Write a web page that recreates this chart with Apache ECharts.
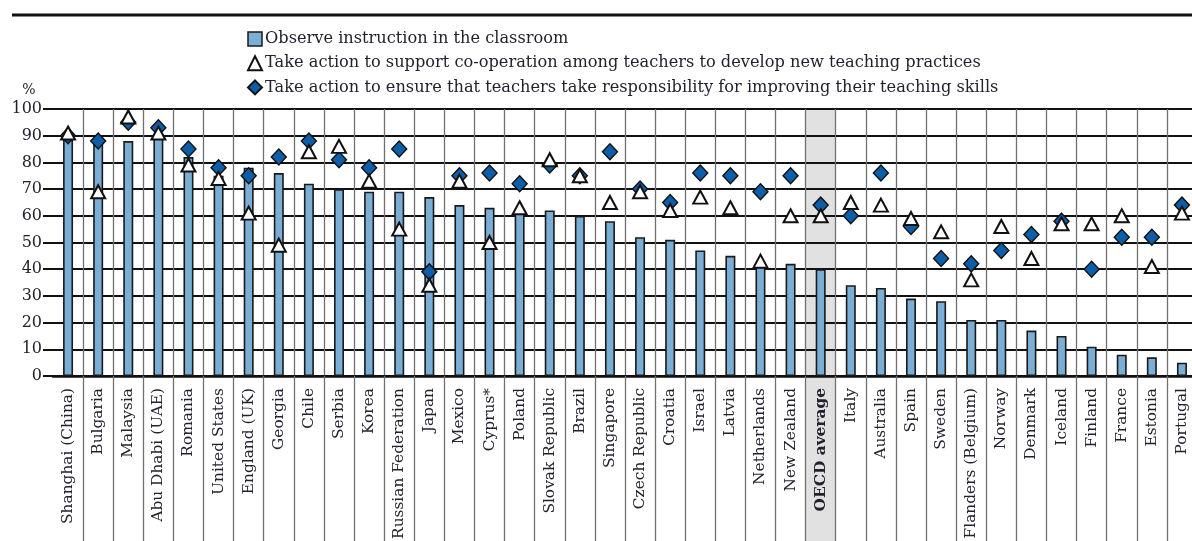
<!DOCTYPE html>
<html>
<head>
<meta charset="utf-8">
<script src="https://cdn.jsdelivr.net/npm/echarts@6/dist/echarts.min.js"></script>
<style>
  html, body { margin: 0; padding: 0; background: #fff; }
  #chart { width: 1192px; height: 541px; }
</style>
</head>
<body>
<div id="chart"></div>
<script>
const countries = ['Shanghai (China)', 'Bulgaria', 'Malaysia', 'Abu Dhabi (UAE)', 'Romania', 'United States',
  'England (UK)', 'Georgia', 'Chile', 'Serbia', 'Korea', 'Russian Federation', 'Japan', 'Mexico', 'Cyprus*',
  'Poland', 'Slovak Republic', 'Brazil', 'Singapore', 'Czech Republic', 'Croatia', 'Israel', 'Latvia',
  'Netherlands', 'New Zealand', 'OECD average', 'Italy', 'Australia', 'Spain', 'Sweden', 'Flanders (Belgium)',
  'Norway', 'Denmark', 'Iceland', 'Finland', 'France', 'Estonia', 'Portugal'];

const observe = [90, 88, 88, 89, 82, 75, 78, 76, 72, 70, 69, 69, 67, 64, 63, 61, 62, 60, 58, 52, 51, 47, 45,
  41, 42, 40, 34, 33, 29, 28, 21, 21, 17, 15, 11, 8, 7, 5];

const cooperation = [91, 69, 97, 91, 79, 74, 61, 49, 84, 86, 73, 55, 34, 73, 50, 63, 81, 75, 65, 69, 62, 67, 63,
  43, 60, 60, 65, 64, 59, 54, 36, 56, 44, 57, 57, 60, 41, 61];

const responsibility = [90, 88, 95, 93, 85, 78, 75, 82, 88, 81, 78, 85, 39, 75, 76, 72, 79, 75, 84, 70, 65, 76, 75,
  69, 75, 64, 60, 76, 56, 44, 42, 47, 53, 58, 40, 52, 52, 64];

const yTicks = [0, 10, 20, 30, 40, 50, 60, 70, 80, 90, 100];

const legendNames = [
  'Observe instruction in the classroom',
  'Take action to support co-operation among teachers to develop new teaching practices',
  'Take action to ensure that teachers take responsibility for improving their teaching skills'
];

const serif = 'DejaVu Serif';
const textColor = '#22222e';

const chart = echarts.init(document.getElementById('chart'));

const option = {
  animation: false,
  textStyle: { fontFamily: serif },
  grid: { left: 53, width: 1144, top: 109, bottom: 165, containLabel: false, outerBoundsMode: 'none' },
  legend: {
    data: [
      { name: legendNames[0], icon: 'rect', itemStyle: { borderWidth: 1.5 } },
      { name: legendNames[1], icon: 'triangle' },
      { name: legendNames[2], icon: 'diamond' }
    ],
    orient: 'vertical',
    left: 242,
    top: 26,
    itemWidth: 14,
    itemHeight: 14,
    itemGap: 8.2,
    textStyle: { fontFamily: serif, fontSize: 16.2, lineHeight: 16, color: textColor, padding: [0, 0, 0, -2] },
    selectedMode: false
  },
  xAxis: {
    type: 'category',
    data: countries,
    boundaryGap: true,
    axisLine: { lineStyle: { color: '#111', width: 2.5 } },
    axisTick: {
      show: true,
      length: 170,
      interval: (index) => index !== 0,
      lineStyle: { color: '#707070', width: 1.3 }
    },
    axisLabel: {
      interval: 0,
      rotate: 90,
      fontFamily: serif,
      fontSize: 15.4,
      color: textColor,
      margin: 12,
      formatter: v => v === 'OECD average' ? '{b|' + v + '}' : v,
      rich: { b: { fontWeight: 'bold', fontFamily: serif, fontSize: 15.4, color: textColor } }
    },
    splitLine: { show: true, showMinLine: false, lineStyle: { color: '#707070', width: 1.3 } }
  },
  yAxis: {
    type: 'value',
    min: 0,
    max: 100,
    interval: 10,
    name: '%',
    nameLocation: 'end',
    nameGap: 12,
    nameTextStyle: { fontFamily: serif, fontSize: 14, color: textColor, align: 'center', padding: [0, 48, 0, 0] },
    axisLine: { show: false },
    axisTick: { show: true, length: 10, lineStyle: { color: '#111', width: 2 } },
    axisLabel: {
      fontFamily: serif, fontSize: 16, color: textColor, margin: 11,
      formatter: v => yTicks.includes(v) ? String(v) : ''
    },
    splitLine: { lineStyle: { color: '#111', width: 2 } }
  },
  series: [
    {
      name: legendNames[0],
      type: 'bar',
      data: observe,
      barWidth: 10,
      itemStyle: { color: '#7baed5', borderColor: '#1a1a1a', borderWidth: 1.6 },
      z: 2
    },
    {
      name: legendNames[2],
      type: 'scatter',
      data: responsibility,
      symbol: 'diamond',
      symbolSize: [15, 16],
      itemStyle: { color: '#0d5ea8', borderColor: '#111', borderWidth: 1.4, opacity: 1 },
      z: 3
    },
    {
      name: legendNames[1],
      type: 'scatter',
      data: cooperation,
      symbol: 'triangle',
      symbolSize: [14, 13],
      itemStyle: { color: '#ffffff', borderColor: '#111', borderWidth: 2, opacity: 1 },
      z: 4
    }
  ]
};

chart.setOption(option);

// grey band behind the OECD average column, down through the label area
const idx = countries.indexOf('OECD average');
const topY = chart.convertToPixel({ yAxisIndex: 0 }, 100);
const c0 = chart.convertToPixel({ xAxisIndex: 0 }, 0);
const c1 = chart.convertToPixel({ xAxisIndex: 0 }, 1);
const step = c1 - c0;

chart.setOption({
  graphic: [
    {
      type: 'rect',
      z: -10,
      silent: true,
      shape: { x: c0 + step * (idx - 0.5), y: topY, width: step, height: 541 - topY },
      style: { fill: '#e1e1e1' }
    },
    {
      type: 'line',
      z: 5,
      silent: true,
      shape: { x1: 12, y1: 15, x2: 1192, y2: 15 },
      style: { stroke: '#111', lineWidth: 3 }
    }
  ]
});
</script>
</body>
</html>
